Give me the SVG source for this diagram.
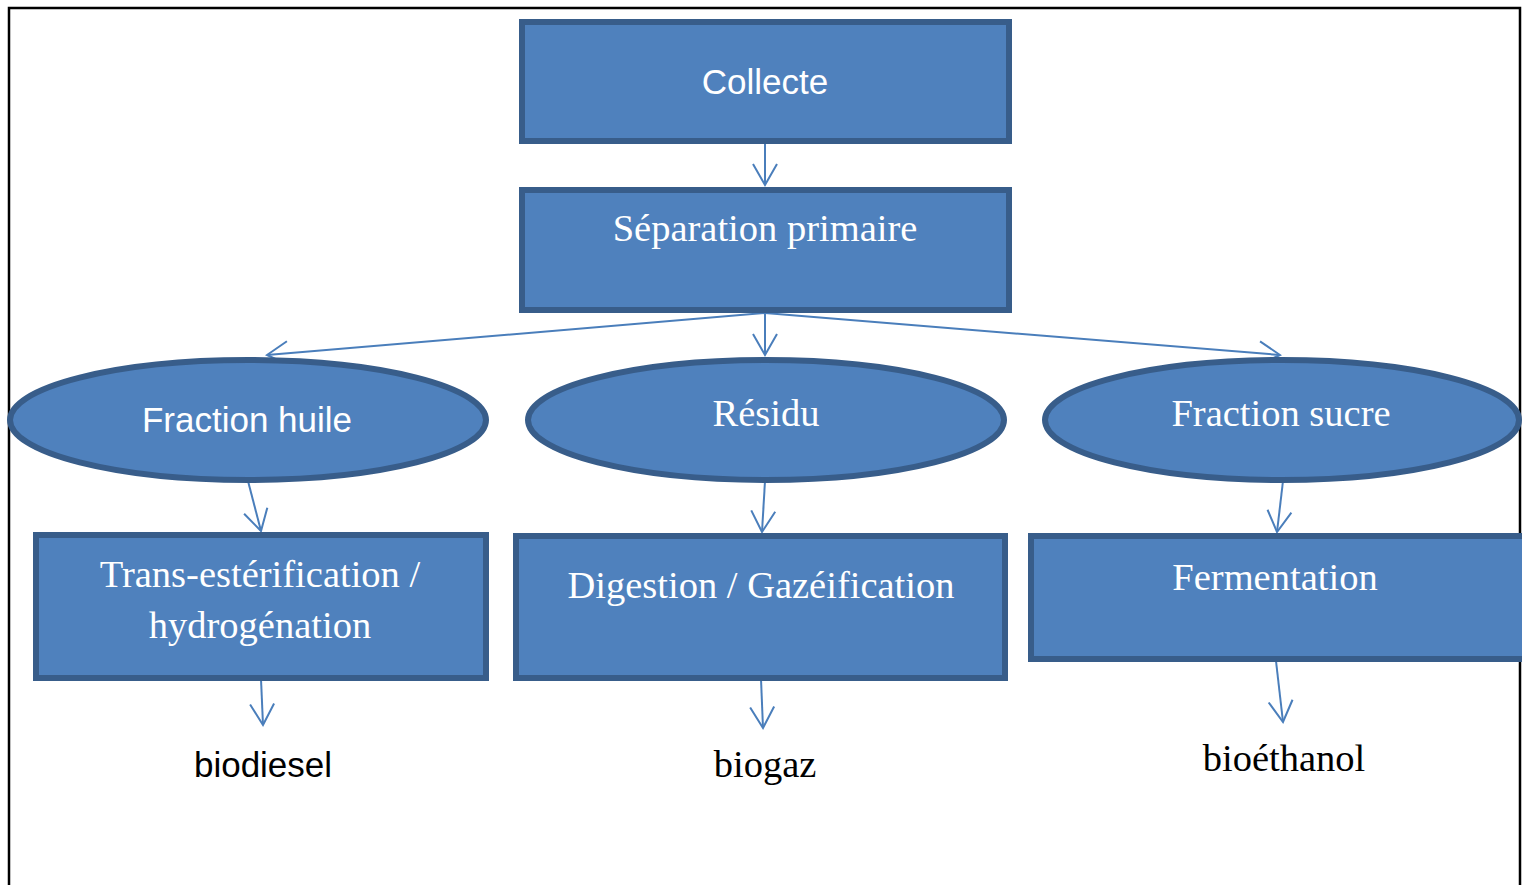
<svg xmlns="http://www.w3.org/2000/svg" width="1522" height="885" viewBox="0 0 1522 885">
<style>
.box{fill:#4F81BD;stroke:#385D8A;stroke-width:6}
.sans{font-family:"Liberation Sans",Arial,sans-serif;font-size:35px;text-anchor:middle}
.serif{font-family:"Liberation Serif","Times New Roman",serif;font-size:38.5px;text-anchor:middle}
.w{fill:#FFFFFF}
.k{fill:#000000}
.con{stroke:#4A7EBB;stroke-width:2;fill:none}
</style>
<defs>
<marker id="arr" markerUnits="userSpaceOnUse" viewBox="-24 -14 28 28" markerWidth="28" markerHeight="28" refX="0" refY="0" orient="auto" overflow="visible">
<path d="M-21,-12 L0,0 L-21,12" fill="none" stroke="#4A7EBB" stroke-width="2"/>
</marker>
</defs>
<rect width="1522" height="885" fill="#FFFFFF"/>
<path d="M9,885 V8 H1520 V885" fill="none" stroke="#000000" stroke-width="2.5"/>
<g id="connectors" class="con">
<line x1="765" y1="144" x2="765" y2="185" marker-end="url(#arr)"/>
<line x1="765" y1="313" x2="765" y2="355" marker-end="url(#arr)"/>
<line x1="765" y1="313" x2="267" y2="355" marker-end="url(#arr)"/>
<line x1="765" y1="313" x2="1280" y2="355" marker-end="url(#arr)"/>
<line x1="248" y1="481" x2="261" y2="531" marker-end="url(#arr)"/>
<line x1="765" y1="481" x2="762" y2="532" marker-end="url(#arr)"/>
<line x1="1283" y1="481" x2="1277" y2="532" marker-end="url(#arr)"/>
<line x1="261" y1="679" x2="263" y2="725" marker-end="url(#arr)"/>
<line x1="761" y1="679" x2="763" y2="728" marker-end="url(#arr)"/>
<line x1="1276" y1="661" x2="1283" y2="722" marker-end="url(#arr)"/>
</g>
<g id="collecte">
<rect class="box" x="522" y="22" width="487" height="119"/>
<text class="sans w" x="765" y="94">Collecte</text>
</g>
<g id="separation">
<rect class="box" x="522" y="190" width="487" height="120"/>
<text class="serif w" x="765" y="241">Séparation primaire</text>
</g>
<g id="fraction-huile">
<ellipse class="box" cx="248" cy="420" rx="238" ry="60"/>
<text class="sans w" x="247" y="432">Fraction huile</text>
</g>
<g id="residu">
<ellipse class="box" cx="766" cy="420" rx="238" ry="60"/>
<text class="serif w" x="766" y="426">Résidu</text>
</g>
<g id="fraction-sucre">
<ellipse class="box" cx="1282" cy="420" rx="237" ry="60"/>
<text class="serif w" x="1281" y="426">Fraction sucre</text>
</g>
<g id="trans">
<rect class="box" x="36" y="535" width="450" height="143"/>
<text class="serif w" x="260" y="587">Trans-estérification /</text>
<text class="serif w" x="260" y="638">hydrogénation</text>
</g>
<g id="digestion">
<rect class="box" x="516" y="536" width="489" height="142"/>
<text class="serif w" x="761" y="598">Digestion / Gazéification</text>
</g>
<g id="fermentation">
<rect class="box" x="1031" y="536" width="500" height="123"/>
<text class="serif w" x="1275" y="590">Fermentation</text>
</g>
<g id="biodiesel">
<text class="sans k" x="263" y="777">biodiesel</text>
</g>
<g id="biogaz">
<text class="serif k" x="765" y="777">biogaz</text>
</g>
<g id="bioethanol">
<text class="serif k" x="1284" y="771">bioéthanol</text>
</g>
</svg>
